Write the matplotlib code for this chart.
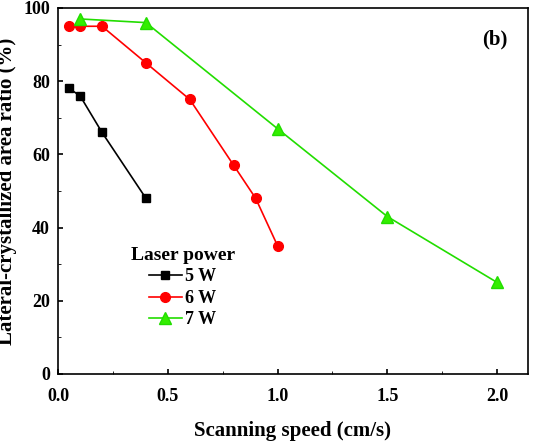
import matplotlib
matplotlib.use('Agg')
import matplotlib.pyplot as plt
from matplotlib.ticker import AutoMinorLocator

plt.rcParams['font.family'] = ['Liberation Serif', 'DejaVu Serif']
plt.rcParams['font.weight'] = 'bold'

x5 = [0.05, 0.1, 0.2, 0.4]
y5 = [78, 76, 66, 48]
x6 = [0.05, 0.1, 0.2, 0.4, 0.6, 0.8, 0.9, 1.0]
y6 = [95, 95, 95, 85, 75, 57, 48, 35]
x7 = [0.1, 0.4, 1.0, 1.5, 2.0]
y7 = [97, 96, 67, 43, 25]

fig = plt.figure(figsize=(5.38, 4.43), dpi=100)
ax = fig.add_axes([0.108, 0.156, 0.873, 0.826])
ax.plot(x5, y5, '-s', color='black', ms=6, lw=1.2, label='5 W')
ax.plot(x6, y6, '-o', color='red', ms=7, lw=1.2, label='6 W')
ax.plot(x7, y7, '-^', color='#22dd00', mfc='#33ee00', ms=8, lw=1.2, label='7 W')
ax.set_xlim(0, 2.14)
ax.set_ylim(0, 100)
ax.set_xticks([0, 0.5, 1.0, 1.5, 2.0])
ax.set_xticklabels(['0.0', '0.5', '1.0', '1.5', '2.0'])
ax.set_yticks(range(0, 101, 20))
ax.xaxis.set_minor_locator(AutoMinorLocator(2))
ax.yaxis.set_minor_locator(AutoMinorLocator(2))
ax.tick_params(direction='in', labelsize=13, width=1.2)
ax.tick_params(axis='x', pad=10)
ax.tick_params(axis='y', pad=6)
ax.tick_params(which='minor', direction='in')
for s in ax.spines.values():
    s.set_linewidth(1.2)
ax.set_xlabel('Scanning speed (cm/s)', fontsize=15, fontweight='bold', labelpad=12)
ax.set_ylabel('Lateral-crystallized area ratio (%)', fontsize=15, fontweight='bold')
ax.text(0.93, 0.9, '(b)', transform=ax.transAxes, fontsize=15, fontweight='bold', ha='center')
leg = ax.legend(title='Laser power', loc='lower left', bbox_to_anchor=(0.12, 0.08),
                frameon=False, fontsize=13, title_fontproperties={'weight': 'bold', 'size': 14},
                handlelength=1.8, handletextpad=0.2, labelspacing=0.25)
fig.savefig('out.png', dpi=100)
